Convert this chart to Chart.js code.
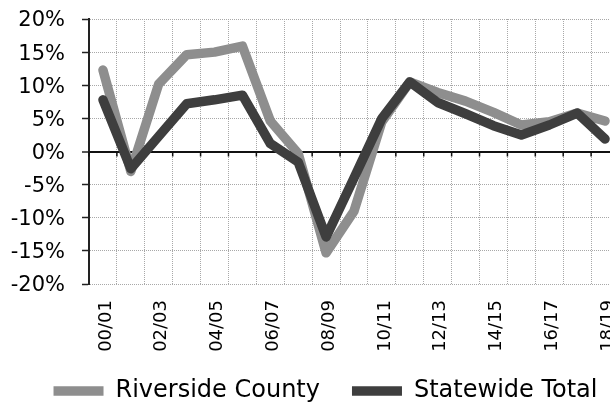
<!DOCTYPE html>
<html>
<head>
<meta charset="utf-8">
<title>Riverside County vs Statewide Total</title>
<script src="https://cdn.jsdelivr.net/npm/chart.js@4.4.0/dist/chart.umd.min.js"></script>
<style>
	html, body { margin: 0; padding: 0; background: #fff; overflow: hidden; }
	#wrap { position: relative; width: 651px; height: 413px; }
</style>
</head>
<body>
<div id="wrap"><canvas id="myChart"></canvas></div>
<script>
// du lieu doc tu hinh
var years = ['00/01', '01/02', '02/03', '03/04', '04/05', '05/06', '06/07', '07/08', '08/09', '09/10',
	'10/11', '11/12', '12/13', '13/14', '14/15', '15/16', '16/17', '17/18', '18/19'];
var riverside = [12.3, -3.0, 10.2, 14.6, 15.0, 15.9, 4.6, -0.3, -15.3, -9.0, 4.5, 10.5, 8.9, 7.6, 5.9, 4.0, 4.5, 5.8, 4.6];
var statewide = [7.8, -2.6, 2.3, 7.2, 7.8, 8.5, 1.2, -1.6, -12.9, -4.0, 5.0, 10.5, 7.4, 5.7, 3.9, 2.5, 4.0, 5.8, 1.9];
var seriesNames = ['Riverside County', 'Statewide Total'];
var yMin = -20, yMax = 20, yStep = 5;

Chart.defaults.font.family = 'DejaVu Sans';
Chart.defaults.color = '#000';

// vach nho tren truc 0% + khong cat nhan truc x
var zeroTicks = {
	id: 'zeroTicks',
	afterLayout: function(chart) {
		chart.scales.x.bottom = chart.height;
	},
	beforeDatasetsDraw: function(chart) {
		var x = chart.scales.x, y = chart.scales.y, ctx = chart.ctx;
		var y0 = y.getPixelForValue(0);
		var half = (x.getPixelForValue(1) - x.getPixelForValue(0)) / 2;
		ctx.save();
		ctx.strokeStyle = '#111';
		ctx.lineWidth = 1.5;
		ctx.beginPath();
		for (var i = 0; i <= years.length; i++) {
			var px = x.getPixelForValue(i) - half;
			ctx.moveTo(px, y0);
			ctx.lineTo(px, y0 + 5);
		}
		ctx.stroke();
		ctx.restore();
	}
};

var ctx = document.getElementById('myChart').getContext('2d');
new Chart(ctx, {
	type: 'line',
	data: {
		labels: years,
		datasets: [{
			label: seriesNames[0],
			data: riverside,
			borderColor: '#8e8e8e',
			backgroundColor: '#8e8e8e',
			borderWidth: 9.5,
			borderCapStyle: 'round',
			borderJoinStyle: 'round',
			pointRadius: 0,
			tension: 0,
			order: 1
		}, {
			label: seriesNames[1],
			data: statewide,
			borderColor: '#3e3e3e',
			backgroundColor: '#3e3e3e',
			borderWidth: 9.5,
			borderCapStyle: 'round',
			borderJoinStyle: 'round',
			pointRadius: 0,
			tension: 0,
			order: 0
		}]
	},
	options: {
		responsive: true,
		maintainAspectRatio: false,
		animation: false,
		layout: { padding: { top: 19, right: 0, bottom: 0, left: 0 } },
		plugins: {
			tooltip: { enabled: false },
			legend: {
				position: 'bottom',
				labels: {
					usePointStyle: true,
					pointStyle: 'line',
					pointStyleWidth: 50,
					padding: 32,
					color: '#000',
					font: { size: 24 },
					sort: function(a, b) { return a.datasetIndex - b.datasetIndex; }
				}
			}
		},
		scales: {
			x: {
				offset: true,
				grid: { offset: true, color: '#a8a8a8', lineWidth: 1, drawTicks: false },
				border: { display: false, dash: [1, 1] },
				ticks: {
					autoSkip: false,
					maxRotation: 90,
					minRotation: 90,
					padding: 16,
					labelOffset: 3,
					font: { size: 18 },
					callback: function(val, i) { return i % 2 === 0 ? years[i] : ''; }
				},
				afterFit: function(scale) { scale.height = 63; }
			},
			y: {
				min: yMin,
				max: yMax,
				grid: {
					color: function(c) { return c.tick && c.tick.value === 0 ? '#111' : '#a8a8a8'; },
					lineWidth: function(c) { return c.tick && c.tick.value === 0 ? 2 : 1; },
					tickLength: 7,
					tickColor: '#222',
					tickWidth: 1.5
				},
				border: {
					display: true,
					color: '#222',
					width: 2,
					dash: function(c) { return c.tick && c.tick.value === 0 ? [] : [1, 1]; }
				},
				ticks: {
					stepSize: yStep,
					padding: 17,
					labelOffset: 2,
					font: { size: 21 },
					callback: function(v) { return v + '%'; }
				},
				afterFit: function(scale) {
					scale.width = 89;
					scale.paddingTop = 10;
					scale.paddingBottom = 10;
				}
			},
			// truc an ben phai, chi de giu khoang trong
			yRight: {
				position: 'right',
				grid: { display: false },
				border: { display: false },
				ticks: { display: false },
				afterFit: function(scale) { scale.width = 32; }
			}
		}
	},
	plugins: [zeroTicks]
});
</script>
</body>
</html>
